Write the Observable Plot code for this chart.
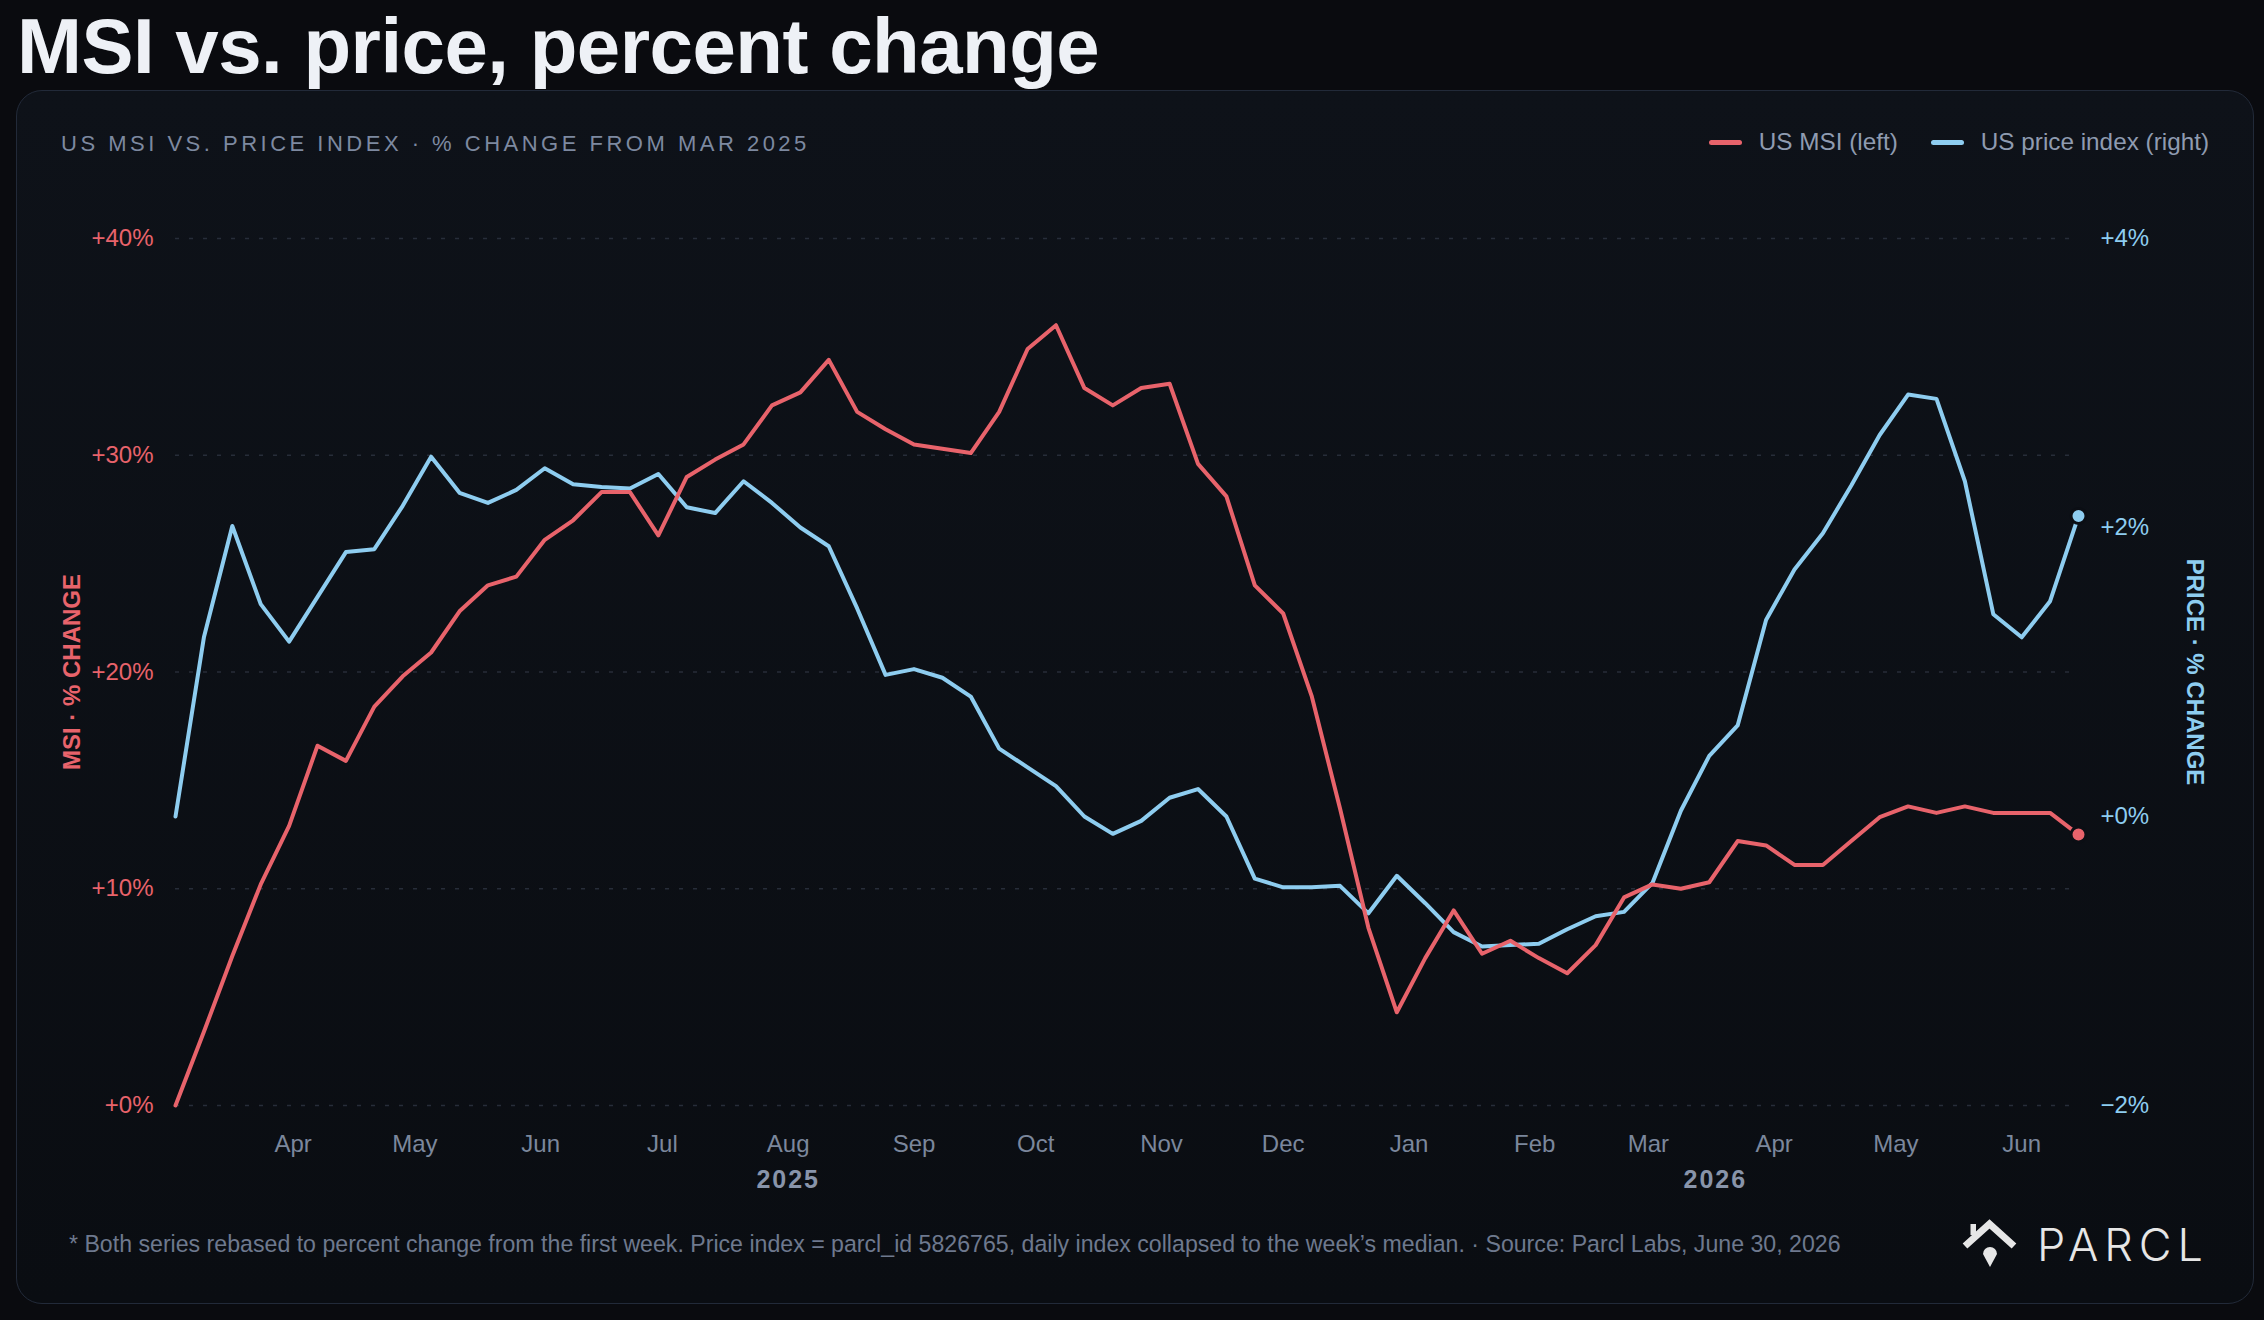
<!DOCTYPE html>
<html><head><meta charset="utf-8">
<script src="https://cdn.jsdelivr.net/npm/d3@7"></script>
<script src="https://cdn.jsdelivr.net/npm/@observablehq/plot@0.6"></script>
<style>
html,body{margin:0;padding:0;background:#0a0b0f;width:2264px;height:1320px;overflow:hidden;font-family:"Liberation Sans",Arial,sans-serif;}
#title{position:absolute;left:17px;top:7px;font-size:78px;line-height:78px;font-weight:bold;color:#eef1f6;letter-spacing:-0.5px;white-space:nowrap;}
#card{position:absolute;left:16px;top:90px;width:2238px;height:1214px;border:1.5px solid #222a39;border-radius:26px;background:linear-gradient(#0e1219,#0a0d12);box-sizing:border-box;}
#sub{position:absolute;left:61px;top:133px;font-size:22px;line-height:22px;letter-spacing:3.5px;color:#7d89a0;white-space:nowrap;}
#legend{position:absolute;right:55px;top:130px;font-size:24.3px;line-height:24px;color:#8f9bb0;display:flex;align-items:center;white-space:nowrap;}
#legend .sw{display:inline-block;width:33px;height:5px;border-radius:3px;margin-right:17px;}
#chart{position:absolute;left:16px;top:190px;}
#foot{position:absolute;left:69px;top:1233px;font-size:23.15px;line-height:23px;color:#6e798e;white-space:nowrap;}
#logo{position:absolute;left:1950px;top:1200px;}
</style></head>
<body>
<div id="title">MSI vs. price, percent change</div>
<div id="card"></div>
<div id="sub">US MSI VS. PRICE INDEX · % CHANGE FROM MAR 2025</div>
<div id="legend"><span class="sw" style="background:#e8636b"></span><span>US MSI (left)</span><span class="sw" style="background:#8ecdf0;margin-left:33px"></span><span>US price index (right)</span></div>
<div id="chart"></div>
<div id="foot">* Both series rebased to percent change from the first week. Price index = parcl_id 5826765, daily index collapsed to the week’s median. · Source: Parcl Labs, June 30, 2026</div>
<svg id="logo" width="280" height="80" viewBox="0 0 280 80">
  <polyline points="15,46 39.5,24 64,46" fill="none" stroke="#e6e6e6" stroke-width="7"/>
  <rect x="20.5" y="24" width="5.5" height="11" fill="#e6e6e6"/>
  <path d="M33,54 A7,7 0 1,1 47,54 L40,67 Z" fill="#e6e6e6"/>
  <text x="87" y="61" font-family="Inter, 'Open Sans', sans-serif" font-size="45" font-weight="300" letter-spacing="6" fill="#e6e6e6">PARCL</text>
</svg>
<script>
const dates = [
"2025-03-03","2025-03-10","2025-03-17","2025-03-24","2025-03-31",
"2025-04-07","2025-04-14","2025-04-21","2025-04-28",
"2025-05-05","2025-05-12","2025-05-19","2025-05-26",
"2025-06-02","2025-06-09","2025-06-16","2025-06-23","2025-06-30",
"2025-07-07","2025-07-14","2025-07-21","2025-07-28",
"2025-08-04","2025-08-11","2025-08-18","2025-08-25",
"2025-09-01","2025-09-08","2025-09-15","2025-09-22","2025-09-29",
"2025-10-06","2025-10-13","2025-10-20","2025-10-27",
"2025-11-03","2025-11-10","2025-11-17","2025-11-24",
"2025-12-01","2025-12-08","2025-12-15","2025-12-22","2025-12-29",
"2026-01-05","2026-01-12","2026-01-19","2026-01-26",
"2026-02-02","2026-02-09","2026-02-16","2026-02-23",
"2026-03-02","2026-03-09","2026-03-16","2026-03-23","2026-03-30",
"2026-04-06","2026-04-13","2026-04-20","2026-04-27",
"2026-05-04","2026-05-11","2026-05-18","2026-05-25",
"2026-06-01","2026-06-08","2026-06-15"];

const msiPct = [0,3.4,6.9,10.2,12.9,16.6,15.9,18.4,19.8,20.9,22.8,24.0,24.4,26.1,27.0,28.3,28.3,26.3,
29.0,29.8,30.5,32.3,32.9,34.4,32.0,31.2,30.5,30.3,30.1,32.0,34.9,36.0,33.1,32.3,33.1,33.3,
29.6,28.1,24.0,22.7,18.9,13.7,8.2,4.3,6.8,9.0,7.0,7.6,6.8,6.1,7.4,9.6,10.2,
10.0,10.3,12.2,12.0,11.1,11.1,12.2,13.3,13.8,13.5,13.8,13.5,13.5,13.5,12.5];

const pricePct = [0,1.24,2.01,1.47,1.21,1.52,1.83,1.85,2.15,2.49,2.24,2.17,2.26,2.41,2.30,2.28,2.27,2.37,
2.14,2.10,2.32,2.17,2.00,1.87,1.44,0.98,1.02,0.96,0.83,0.47,0.34,0.21,0.00,-0.12,-0.03,0.13,
0.19,0.00,-0.43,-0.49,-0.49,-0.48,-0.67,-0.41,-0.60,-0.80,-0.90,-0.89,-0.88,-0.78,-0.69,-0.66,-0.46,
0.04,0.42,0.63,1.36,1.71,1.96,2.29,2.64,2.92,2.89,2.32,1.40,1.24,1.49,2.08];

const leftTicks = [0, 10, 20, 30, 40];
const rightTicks = [-2, 0, 2, 4];
const leftLabel = "MSI · % CHANGE";
const rightLabel = "PRICE · % CHANGE";

const RED = "#e8636b", BLUE = "#8ecdf0";
// dual-axis mapping: right [-2,4] onto left [0,40]
const toLeft = r => (r + 2) * 40 / 6;
const fromLeft = l => l * 6 / 40 - 2;

const data = dates.map((d, i) => ({date: new Date(d), msi: msiPct[i], price: pricePct[i], priceL: toLeft(pricePct[i])}));
const x0 = data[0].date, x1 = data[data.length - 1].date;
const monthTicks = d3.utcMonth.range(d3.utcMonth.ceil(x0), new Date(+x1 + 1));
const years = d3.groups(monthTicks, d => d.getUTCFullYear()).map(([y, ts]) => ({year: String(y), date: new Date((+ts[0] + +ts[ts.length - 1]) / 2)}));
const last = data[data.length - 1];
const fmtR = r => { const v = Math.round(r); return (v < 0 ? "\u2212" : "+") + Math.abs(v) + "%"; };

const chart = Plot.plot({
  width: 2232, height: 1020,
  marginTop: 48, marginBottom: 105, marginLeft: 159, marginRight: 170,
  style: {background: "transparent", fontFamily: "'Liberation Sans', Arial, sans-serif", fontSize: "24px", color: "#7b879c"},
  x: {type: "utc", domain: [x0, x1]},
  y: {domain: [0, 40]},
  marks: [
    Plot.gridY(leftTicks, {stroke: "#272d39", strokeOpacity: 1, strokeWidth: 1.5, strokeDasharray: "4,10"}),
    Plot.axisX(monthTicks, {tickFormat: d3.utcFormat("%b"), tickSize: 0, tickPadding: 29, fill: "#7b879c", fontSize: 24, label: null}),
    Plot.axisY(leftTicks, {anchor: "left", tickFormat: d => `+${d}%`, tickSize: 0, tickPadding: 22, fill: RED, fontSize: 24, label: null}),
    Plot.axisY(rightTicks.map(toLeft), {anchor: "right", tickFormat: d => fmtR(fromLeft(d)), tickSize: 0, tickPadding: 22, fill: BLUE, fontSize: 24, label: null}),
    Plot.text(years, {x: "date", text: "year", frameAnchor: "bottom", lineAnchor: "middle", dy: 74, fill: "#8894aa", fontWeight: "bold", fontSize: 25}),
    Plot.text([leftLabel], {frameAnchor: "left", textAnchor: "middle", lineAnchor: "middle", text: d => d, rotate: -90, dx: -103, fill: RED, fontWeight: "bold", fontSize: 24}),
    Plot.text([rightLabel], {frameAnchor: "right", textAnchor: "middle", lineAnchor: "middle", text: d => d, rotate: 90, dx: 116, fill: BLUE, fontWeight: "bold", fontSize: 24}),
    Plot.line(data, {x: "date", y: "priceL", stroke: BLUE, strokeWidth: 4}),
    Plot.line(data, {x: "date", y: "msi", stroke: RED, strokeWidth: 4}),
    Plot.dot([last], {x: "date", y: "priceL", r: 7.5, fill: BLUE, stroke: "#0b0e14", strokeWidth: 3}),
    Plot.dot([last], {x: "date", y: "msi", r: 7.5, fill: RED, stroke: "#0b0e14", strokeWidth: 3})
  ]
});
chart.querySelectorAll("text").forEach(t => { if (/^20\d\d$/.test(t.textContent)) t.style.letterSpacing = "2px"; });
document.getElementById("chart").appendChild(chart);
</script>
</body></html>
